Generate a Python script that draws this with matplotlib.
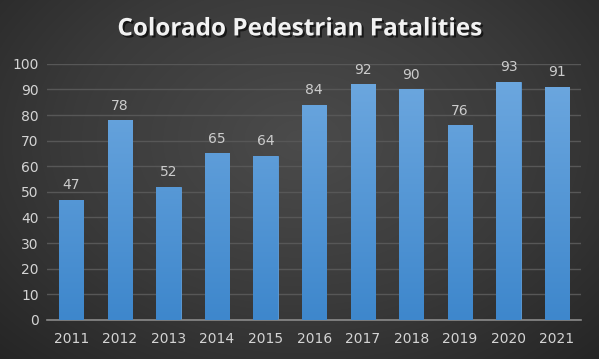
import numpy as np
import matplotlib.pyplot as plt
import matplotlib.patheffects as pe
from matplotlib.colors import LinearSegmentedColormap

years = ['2011', '2012', '2013', '2014', '2015', '2016', '2017', '2018', '2019', '2020', '2021']
fatalities = [47, 78, 52, 65, 64, 84, 92, 90, 76, 93, 91]
title = 'Colorado Pedestrian Fatalities'

fig = plt.figure(figsize=(5.99, 3.59), dpi=100)

# radial gradient background
bg = fig.add_axes([0, 0, 1, 1], zorder=0)
yy, xx = np.mgrid[0:359, 0:599]
r = np.sqrt(((xx - 300) / 420.0) ** 2 + ((yy - 140) / 300.0) ** 2)
bg_cmap = LinearSegmentedColormap.from_list('bg', ['#4b4b4b', '#3a3a3a', '#222222'])
bg.imshow(r, cmap=bg_cmap, vmin=0, vmax=1.1, aspect='auto', origin='upper')
bg.axis('off')

ax = fig.add_axes([0.0785, 0.109, 0.892, 0.713], zorder=1)
ax.patch.set_alpha(0)
x = np.arange(len(years))
bars = ax.bar(x, fatalities, width=0.5, color='#5a9bdb', zorder=2)

# vertical gradient fill on each bar
bar_cmap = LinearSegmentedColormap.from_list('bar', ['#3e87cc', '#6fa9e0'])
grad = np.linspace(0, 1, 256).reshape(-1, 1)
for b in bars:
    bx, w = b.get_x(), b.get_width()
    im = ax.imshow(grad, cmap=bar_cmap, origin='lower', aspect='auto',
                   extent=[bx, bx + w, 0, 100], zorder=3)
    im.set_clip_path(b)
    b.set_edgecolor('#5e9fdd')
    b.set_linewidth(0.6)

for xi, v in zip(x, fatalities):
    ax.text(xi, v + 3, str(v), ha='center', va='bottom', color='#cccccc',
            fontsize=10, zorder=4)

ax.set_xlim(-0.5, len(years) - 0.5)
ax.set_ylim(0, 100)
ax.set_yticks(range(0, 101, 10))
ax.set_xticks(x)
ax.set_xticklabels(years)
ax.tick_params(colors='#d4d4d4', labelsize=10, length=0, pad=6)
ax.tick_params(axis='x', pad=9)
ax.grid(axis='y', color='#575757', linewidth=1, zorder=1)
for s in ['top', 'right', 'left']:
    ax.spines[s].set_visible(False)
ax.spines['bottom'].set_color('#8a8a8a')
ax.spines['bottom'].set_linewidth(1.2)

fig.text(0.5, 0.918, title, ha='center', va='center', color='#f2f2f2',
         fontsize=17.5, fontweight='bold', family=['Open Sans', 'DejaVu Sans'],
         path_effects=[pe.withSimplePatchShadow(offset=(1.5, -1.5), shadow_rgbFace='black', alpha=0.6)])

fig.savefig('out.png', dpi=100)
